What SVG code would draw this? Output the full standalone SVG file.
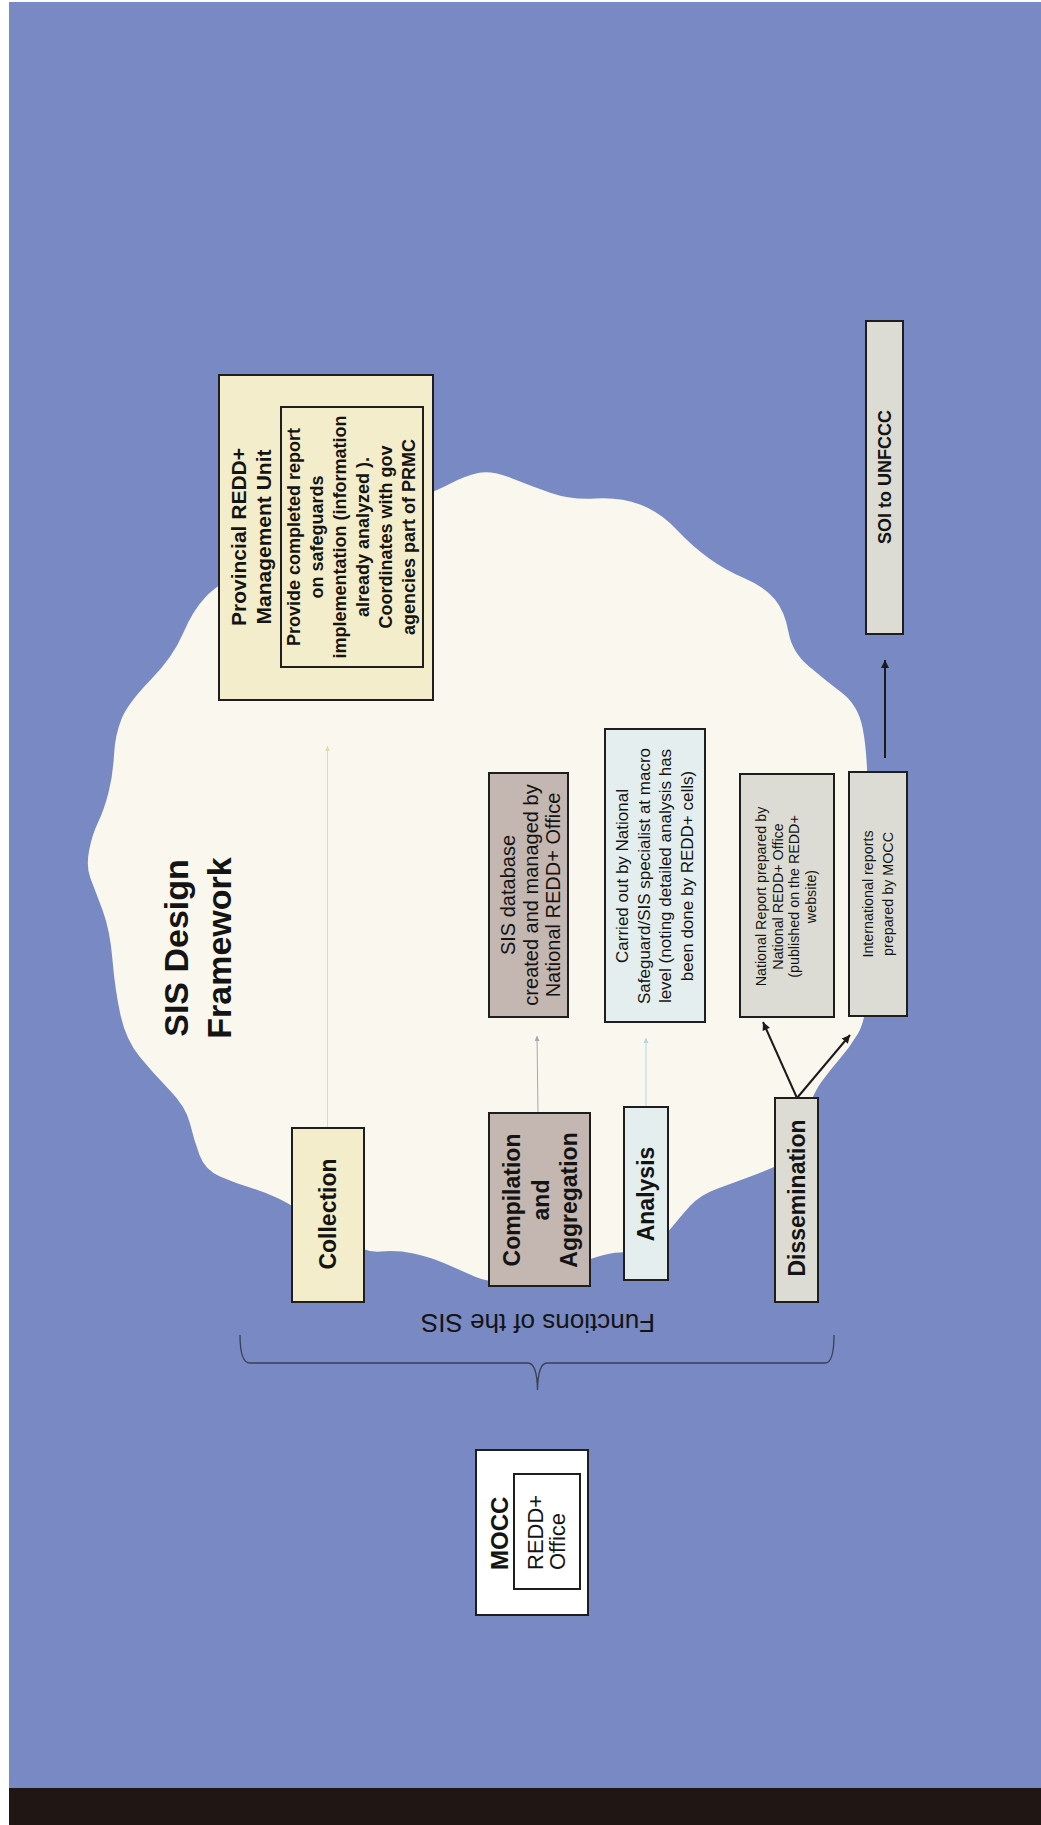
<svg xmlns="http://www.w3.org/2000/svg" width="1041" height="1825" viewBox="0 0 1041 1825">
<style>
.bx{stroke:#1e1e1e;stroke-width:2}
.y{fill:#F3EDCB}.m{fill:#C4B6B0}.c{fill:#E4EEEE}.g{fill:#DCDCD4}.w{fill:#ffffff}
.t{font-family:"Liberation Sans",Arial,Helvetica,sans-serif;fill:#141414}
.b{font-weight:bold}
</style>
<defs>
<marker id="ahk" viewBox="0 0 10 10" refX="10" refY="5" markerWidth="10" markerHeight="8" orient="auto" markerUnits="userSpaceOnUse"><path d="M0,0 L10,5 L0,10 z" fill="#1a1a1a"/></marker>
<marker id="ahy" viewBox="0 0 10 10" refX="10" refY="5" markerWidth="6" markerHeight="5" orient="auto" markerUnits="userSpaceOnUse"><path d="M0,0 L10,5 L0,10 z" fill="#E2DCA8"/></marker>
<marker id="ahm" viewBox="0 0 10 10" refX="10" refY="5" markerWidth="6" markerHeight="5" orient="auto" markerUnits="userSpaceOnUse"><path d="M0,0 L10,5 L0,10 z" fill="#A9A3B6"/></marker>
<marker id="ahc" viewBox="0 0 10 10" refX="10" refY="5" markerWidth="6" markerHeight="5" orient="auto" markerUnits="userSpaceOnUse"><path d="M0,0 L10,5 L0,10 z" fill="#B5D6E0"/></marker>
</defs>
<rect x="0" y="0" width="1041" height="1825" fill="#ffffff"/>
<rect x="9" y="2" width="1032" height="1786" fill="#7889C3"/>
<rect x="9" y="1788" width="1032" height="37" fill="#201715"/>
<path id="cloud" fill="#FAF8EE" d="M 478,473 Q 491,470 511,478 Q 531,486 551,493 Q 571,500 595.5,498.5 Q 620,497 640,504.5 Q 660,512 676,529 Q 692,546 708.5,558 Q 725,570 745,578.5 Q 765,587 775,599.5 Q 785,612 788.5,632 Q 792,652 808.5,666 Q 825,680 841.5,692.5 Q 858,705 862.5,727.5 Q 867,750 867.5,785 Q 868,820 868,890 Q 868,960 867,990 Q 866,1020 858,1033.5 Q 850,1047 840,1058.5 Q 830,1070 821,1082.5 Q 812,1095 801,1127.5 Q 790,1160 777.5,1165.5 Q 765,1171 749,1177 Q 733,1183 716.5,1189 Q 700,1195 690,1206 Q 680,1217 672.5,1226.5 Q 665,1236 652.5,1244 Q 640,1252 620,1252.5 Q 600,1253 570,1268 Q 540,1283 514.5,1283 Q 489,1283 474.5,1276.5 Q 460,1270 445,1263.5 Q 430,1257 413.5,1253.5 Q 397,1250 380.5,1251.5 Q 364,1253 342,1239 Q 320,1225 306,1215 Q 292,1205 278.5,1198.5 Q 265,1192 250,1187.5 Q 235,1183 220,1176.5 Q 205,1170 199.5,1155 Q 194,1140 190,1123.5 Q 186,1107 169.5,1090 Q 153,1073 139.5,1056.5 Q 126,1040 120.5,1015 Q 115,990 112.5,960 Q 110,930 102.5,910 Q 95,890 90.5,878.5 Q 86,867 89,851 Q 92,835 98,822.5 Q 104,810 108.5,792.5 Q 113,775 114,755 Q 115,735 121.5,719 Q 128,703 150.5,680 Q 173,657 183,633.5 Q 193,610 206,596.5 Q 219,583 259.5,561.5 Q 300,540 350,522.5 Q 400,505 419,497.5 Q 438,490 451.5,483 Q 465,476 478,473 Z"/>

<g id="connectors" fill="none">
<line x1="327.5" y1="1128" x2="327.5" y2="746" stroke="#E2DCA8" stroke-width="1" marker-end="url(#ahy)"/>
<line x1="538" y1="1113" x2="537" y2="1036" stroke="#A9A3B6" stroke-width="1" marker-end="url(#ahm)"/>
<line x1="646" y1="1107" x2="646" y2="1038" stroke="#B5D6E0" stroke-width="1" marker-end="url(#ahc)"/>
<line x1="797" y1="1098" x2="763" y2="1022" stroke="#1a1a1a" stroke-width="2" marker-end="url(#ahk)"/>
<line x1="797" y1="1098" x2="850" y2="1035" stroke="#1a1a1a" stroke-width="2" marker-end="url(#ahk)"/>
<line x1="885" y1="758" x2="885" y2="660" stroke="#1a1a1a" stroke-width="2" marker-end="url(#ahk)"/>
</g>

<g id="provincial">
<rect class="bx y" x="219" y="375" width="214" height="325"/>
<rect class="bx y" x="281" y="407" width="142" height="260"/>
<text class="t b" font-size="21" text-anchor="middle" transform="translate(246,537) rotate(-90)"><tspan x="0" y="0">Provincial REDD+</tspan><tspan x="0" dy="25">Management Unit</tspan></text>
<text class="t b" font-size="18" text-anchor="middle" transform="translate(300,537) rotate(-90)"><tspan x="0" y="0">Provide completed report</tspan><tspan x="0" dy="23">on safeguards</tspan><tspan x="0" dy="23">implementation (information</tspan><tspan x="0" dy="23">already analyzed ).</tspan><tspan x="0" dy="23">Coordinates with gov</tspan><tspan x="0" dy="23">agencies part of PRMC</tspan></text>
</g>

<g id="soi">
<rect class="bx g" x="866" y="321" width="37" height="313"/>
<text class="t b" font-size="18" text-anchor="middle" transform="translate(891,477) rotate(-90)">SOI to UNFCCC</text>
</g>

<g id="title">
<text class="t b" font-size="34" text-anchor="middle" transform="translate(188,948) rotate(-90)"><tspan x="0" y="0">SIS Design</tspan><tspan x="0" dy="43">Framework</tspan></text>
</g>

<g id="collection">
<rect class="bx y" x="292" y="1128" width="72" height="174"/>
<text class="t b" font-size="23" text-anchor="middle" transform="translate(336,1214) rotate(-90)">Collection</text>
</g>

<g id="compilation">
<rect class="bx m" x="489" y="1113" width="101" height="173"/>
<text class="t b" font-size="23" text-anchor="middle" transform="translate(520,1200) rotate(-90)"><tspan x="0" y="0">Compilation</tspan><tspan x="0" dy="28.5">and</tspan><tspan x="0" dy="28.5">Aggregation</tspan></text>
</g>

<g id="sisdb">
<rect class="bx m" x="489" y="773" width="79" height="244"/>
<text class="t" font-size="20" text-anchor="middle" transform="translate(515,895) rotate(-90)"><tspan x="0" y="0">SIS database</tspan><tspan x="0" dy="22.5">created and managed by</tspan><tspan x="0" dy="22.5">National REDD+ Office</tspan></text>
</g>

<g id="analysis">
<rect class="bx c" x="624" y="1107" width="44" height="173"/>
<text class="t b" font-size="23" text-anchor="middle" transform="translate(654,1194) rotate(-90)">Analysis</text>
</g>

<g id="carried">
<rect class="bx c" x="605" y="729" width="100" height="293"/>
<text class="t" font-size="17" text-anchor="middle" transform="translate(628,876) rotate(-90)"><tspan x="0" y="0">Carried out by National</tspan><tspan x="0" dy="21.5">Safeguard/SIS specialist at macro</tspan><tspan x="0" dy="21.5">level (noting detailed analysis has</tspan><tspan x="0" dy="21.5">been done by REDD+ cells)</tspan></text>
</g>

<g id="dissemination">
<rect class="bx g" x="775" y="1098" width="43" height="204"/>
<text class="t b" font-size="23" text-anchor="middle" transform="translate(805,1198) rotate(-90)">Dissemination</text>
</g>

<g id="national">
<rect class="bx g" x="740" y="774" width="94" height="243"/>
<text class="t" font-size="14.3" text-anchor="middle" transform="translate(766,896.5) rotate(-90)"><tspan x="0" y="0">National Report prepared by</tspan><tspan x="0" dy="16.7">National REDD+ Office</tspan><tspan x="0" dy="16.7">(published on the REDD+</tspan><tspan x="0" dy="16.7">website)</tspan></text>
</g>

<g id="international">
<rect class="bx g" x="849" y="772" width="58" height="244"/>
<text class="t" font-size="14.3" text-anchor="middle" transform="translate(873,894) rotate(-90)"><tspan x="0" y="0">International reports</tspan><tspan x="0" dy="20">prepared by MOCC</tspan></text>
</g>

<g id="functions">
<path d="M240,1335 Q240,1363 250,1363 L528,1363 Q537,1363 537.5,1390 Q538,1363 547,1363 L825,1363 Q834,1363 834,1335" fill="none" stroke="#3a3f55" stroke-width="1.3"/>
<text class="t" font-size="26" text-anchor="middle" transform="translate(538,1314) rotate(180)">Functions of the SIS</text>
</g>

<g id="mocc">
<rect class="bx w" x="476" y="1450" width="112" height="165"/>
<rect class="bx w" x="514" y="1474" width="66" height="115"/>
<text class="t b" font-size="24" text-anchor="start" transform="translate(508,1570) rotate(-90)">MOCC</text>
<text class="t" font-size="22" text-anchor="start" transform="translate(543,1570) rotate(-90)"><tspan x="0" y="0">REDD+</tspan><tspan x="0" dy="22">Office</tspan></text>
</g>
</svg>
